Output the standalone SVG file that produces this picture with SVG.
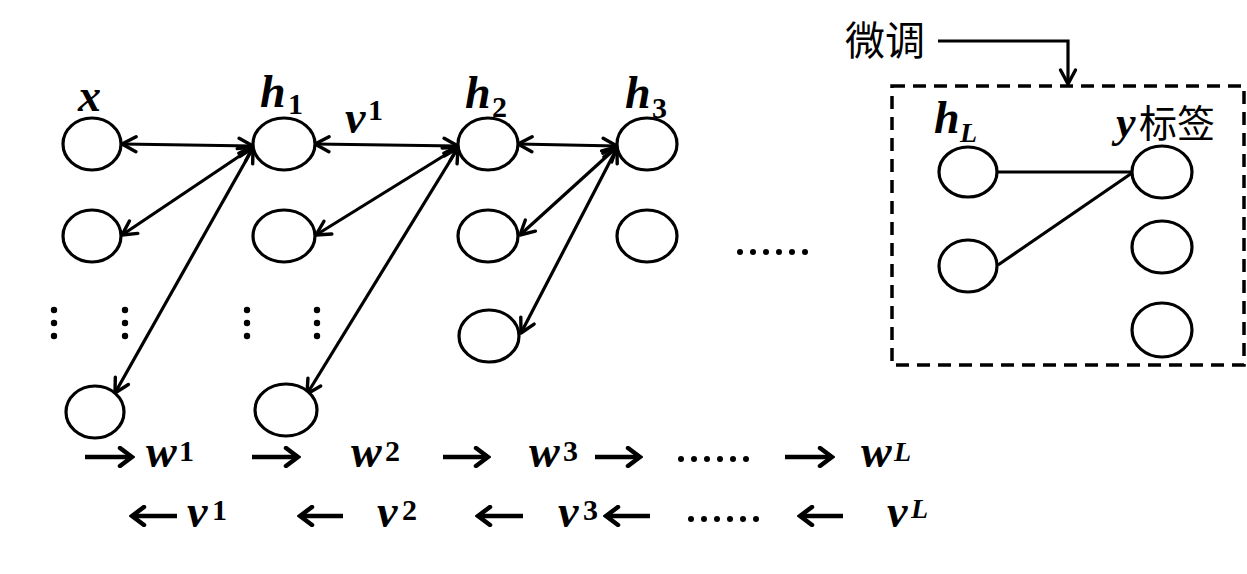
<svg xmlns="http://www.w3.org/2000/svg" width="1247" height="574" viewBox="0 0 1247 574">
<defs>
<marker id="ah" markerUnits="userSpaceOnUse" viewBox="0 0 20 20" markerWidth="20" markerHeight="20" refX="17" refY="10" orient="auto-start-reverse">
<path d="M3,2.5 L17,10 L3,17.5" fill="none" stroke="#000" stroke-width="3.4" stroke-linecap="round" stroke-linejoin="round"/>
</marker>
<marker id="ahb" markerUnits="userSpaceOnUse" viewBox="0 0 20 22" markerWidth="20" markerHeight="22" refX="17" refY="11" orient="auto-start-reverse">
<path d="M5,2 L17,11 L5,20" fill="none" stroke="#000" stroke-width="4.5" stroke-linecap="round" stroke-linejoin="miter"/>
</marker>
</defs>
<style>
.n{fill:#fff;stroke:#000;stroke-width:3.2}
.c{stroke:#000;stroke-width:3.2;fill:none}
.d{stroke:#000;stroke-width:3.2;fill:none;marker-start:url(#ah);marker-end:url(#ah)}
.ba{stroke:#000;stroke-width:4.5;fill:none;marker-end:url(#ahb)}
.m{font-family:"Liberation Serif","DejaVu Serif",serif;font-weight:bold;font-style:italic;fill:#000}
.s{font-family:"Liberation Serif","DejaVu Serif",serif;font-weight:bold;fill:#000}
.cj{font-family:"Noto Sans CJK SC","Noto Sans",sans-serif;fill:#000}
.dot{fill:#000}
</style>
<rect width="1247" height="574" fill="#fff"/>

<g id="connectors">
<line class="d" x1="122" y1="144" x2="253" y2="146"/>
<line class="d" x1="122" y1="235" x2="253" y2="147"/>
<line class="d" x1="115" y1="393" x2="253" y2="148"/>
<line class="d" x1="315" y1="144" x2="458" y2="146"/>
<line class="d" x1="316" y1="235" x2="458" y2="147"/>
<line class="d" x1="307" y1="394" x2="458" y2="148"/>
<line class="d" x1="518" y1="144" x2="617" y2="146"/>
<line class="d" x1="520" y1="235" x2="617" y2="147"/>
<line class="d" x1="521" y1="333" x2="617" y2="148"/>
<line class="c" x1="997" y1="172" x2="1132" y2="172"/>
<line class="c" x1="998" y1="265" x2="1132" y2="173"/>
<path class="c" d="M938,41 H1068 V84" stroke-width="3.5" marker-end="url(#ah)"/>
</g>

<g id="col-x">
<ellipse id="x1" class="n" cx="92" cy="144" rx="29" ry="26"/>
<ellipse id="x2" class="n" cx="92" cy="236" rx="29" ry="26"/>
<ellipse id="x3" class="n" cx="95" cy="412" rx="29" ry="26"/>
<text class="m" x="78" y="111" font-size="46">x</text>
</g>
<g id="col-h1">
<ellipse id="h1a" class="n" cx="284" cy="144" rx="31" ry="26"/>
<ellipse id="h1b" class="n" cx="284" cy="236" rx="31" ry="26"/>
<ellipse id="h1c" class="n" cx="286" cy="410" rx="31" ry="26"/>
<text class="m" x="260" y="107" font-size="46">h</text>
<text class="s" x="288" y="114" font-size="30">1</text>
<text class="m" x="345" y="133" font-size="46">v</text>
<text class="s" x="368" y="120" font-size="30">1</text>
</g>
<g id="col-h2">
<ellipse id="h2a" class="n" cx="488" cy="144" rx="30" ry="26"/>
<ellipse id="h2b" class="n" cx="488" cy="236" rx="30" ry="26"/>
<ellipse id="h2c" class="n" cx="489" cy="336" rx="30" ry="26"/>
<text class="m" x="465" y="108" font-size="46">h</text>
<text class="s" x="492" y="117" font-size="30">2</text>
</g>
<g id="col-h3">
<ellipse id="h3a" class="n" cx="647" cy="144" rx="30" ry="26"/>
<ellipse id="h3b" class="n" cx="647" cy="236" rx="30" ry="26"/>
<text class="m" x="625" y="108" font-size="46">h</text>
<text class="s" x="652" y="118" font-size="30">3</text>
</g>

<g id="vdots">
<circle class="dot" cx="54" cy="310" r="3.2"/><circle class="dot" cx="54" cy="323" r="3.2"/><circle class="dot" cx="54" cy="336" r="3.2"/>
<circle class="dot" cx="125" cy="310" r="3.2"/><circle class="dot" cx="125" cy="323" r="3.2"/><circle class="dot" cx="125" cy="336" r="3.2"/>
<circle class="dot" cx="247" cy="310" r="3.2"/><circle class="dot" cx="247" cy="323" r="3.2"/><circle class="dot" cx="247" cy="336" r="3.2"/>
<circle class="dot" cx="317" cy="310" r="3.2"/><circle class="dot" cx="317" cy="323" r="3.2"/><circle class="dot" cx="317" cy="336" r="3.2"/>
</g>
<g id="hdots">
<circle class="dot" cx="740" cy="252" r="3"/><circle class="dot" cx="753" cy="252" r="3"/><circle class="dot" cx="766" cy="252" r="3"/><circle class="dot" cx="779" cy="252" r="3"/><circle class="dot" cx="792" cy="252" r="3"/><circle class="dot" cx="805" cy="252" r="3"/>
</g>

<g id="finetune">
<rect x="892" y="86" width="352" height="279" fill="none" stroke="#000" stroke-width="3.5" stroke-dasharray="13,8"/>
<text class="cj" x="845" y="55" font-size="40">微调</text>
<ellipse id="hLa" class="n" cx="968" cy="172" rx="29" ry="25"/>
<ellipse id="hLb" class="n" cx="968" cy="266" rx="29" ry="26"/>
<ellipse id="ya" class="n" cx="1162" cy="172" rx="30" ry="26"/>
<ellipse id="yb" class="n" cx="1162" cy="247" rx="30" ry="26"/>
<ellipse id="yc" class="n" cx="1162" cy="330" rx="30" ry="27"/>
<text class="m" x="934" y="133" font-size="46">h</text>
<text class="m" x="960" y="142" font-size="28">L</text>
<text class="m" x="1116" y="137" font-size="44">y</text>
<text class="cj" x="1139" y="137" font-size="38">标签</text>
</g>

<g id="forward">
<line class="ba" x1="85" y1="457" x2="132" y2="457"/>
<line class="ba" x1="252" y1="457" x2="298" y2="457"/>
<line class="ba" x1="443" y1="457" x2="488" y2="457"/>
<line class="ba" x1="595" y1="457" x2="640" y2="457"/>
<line class="ba" x1="785" y1="457" x2="832" y2="457"/>
<text class="m" x="146" y="467" font-size="46">w</text><text class="s" x="179" y="461" font-size="30">1</text>
<text class="m" x="351" y="467" font-size="46">w</text><text class="s" x="385" y="461" font-size="30">2</text>
<text class="m" x="529" y="467" font-size="46">w</text><text class="s" x="563" y="461" font-size="30">3</text>
<text class="m" x="861" y="467" font-size="46">w</text><text class="m" x="894" y="461" font-size="28">L</text>
<circle class="dot" cx="681" cy="459" r="3"/><circle class="dot" cx="694" cy="459" r="3"/><circle class="dot" cx="707" cy="459" r="3"/><circle class="dot" cx="720" cy="459" r="3"/><circle class="dot" cx="733" cy="459" r="3"/><circle class="dot" cx="746" cy="459" r="3"/>
</g>
<g id="backward">
<line class="ba" x1="177" y1="516" x2="132" y2="516"/>
<line class="ba" x1="343" y1="516" x2="300" y2="516"/>
<line class="ba" x1="523" y1="516" x2="478" y2="516"/>
<line class="ba" x1="650" y1="516" x2="606" y2="516"/>
<line class="ba" x1="843" y1="516" x2="800" y2="516"/>
<text class="m" x="187" y="527" font-size="46">v</text><text class="s" x="212" y="520" font-size="30">1</text>
<text class="m" x="377" y="527" font-size="46">v</text><text class="s" x="402" y="520" font-size="30">2</text>
<text class="m" x="558" y="527" font-size="46">v</text><text class="s" x="583" y="520" font-size="30">3</text>
<text class="m" x="887" y="527" font-size="46">v</text><text class="m" x="911" y="518" font-size="28">L</text>
<circle class="dot" cx="691" cy="519" r="3"/><circle class="dot" cx="704" cy="519" r="3"/><circle class="dot" cx="717" cy="519" r="3"/><circle class="dot" cx="730" cy="519" r="3"/><circle class="dot" cx="743" cy="519" r="3"/><circle class="dot" cx="756" cy="519" r="3"/>
</g>
</svg>
